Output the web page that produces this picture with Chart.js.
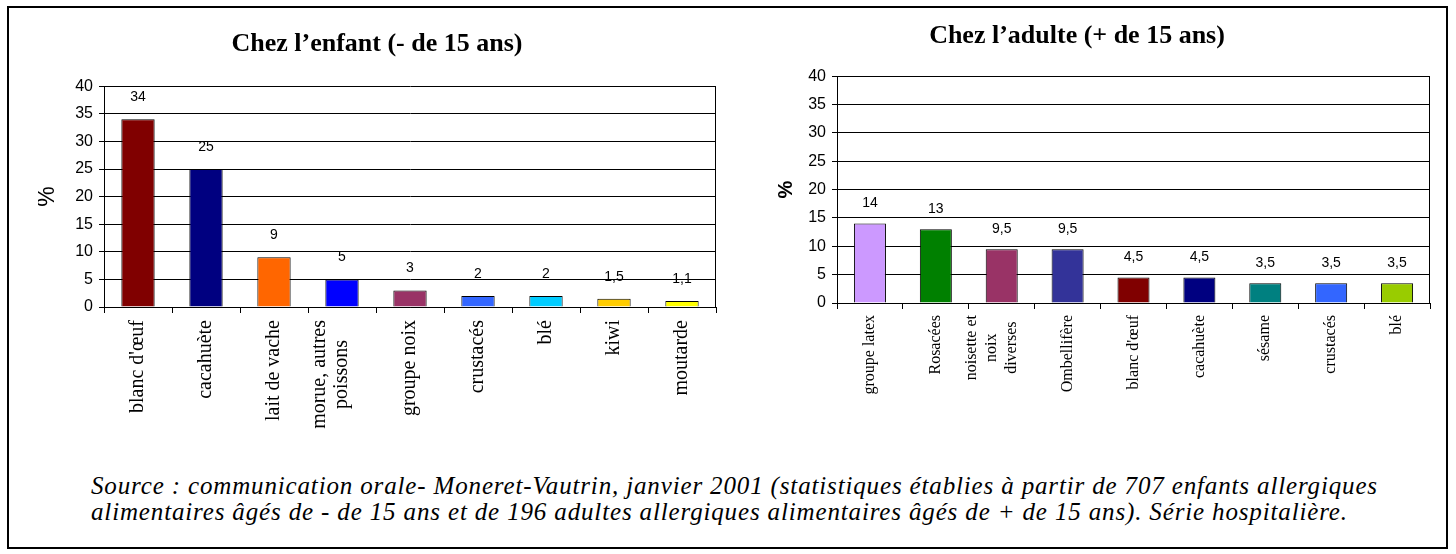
<!DOCTYPE html>
<html lang="fr">
<head>
<meta charset="utf-8">
<title>Allergies alimentaires</title>
<script src="https://cdn.jsdelivr.net/npm/chart.js@4.4.0/dist/chart.umd.min.js"></script>
<style>
  html, body { margin: 0; padding: 0; background: #fff; }
  body { width: 1456px; height: 554px; position: relative; overflow: hidden; }
  #frame { position: absolute; left: 7px; top: 6px; width: 1437px; height: 539px; border: 2px solid #000; }
  .box { position: absolute; top: 0; height: 440px; }
  #box-enfant { left: 38px; width: 686px; }
  #box-adulte { left: 724px; width: 721px; }
  #source {
    position: absolute; left: 91px; top: 473px;
    font: italic 25px/26px 'Liberation Serif', 'Times New Roman', serif;
    letter-spacing: 0.85px;
    white-space: nowrap; color: #000;
  }
</style>
</head>
<body>
<div id="frame"></div>
<div class="box" id="box-enfant"><canvas id="chart-enfant"></canvas></div>
<div class="box" id="box-adulte"><canvas id="chart-adulte"></canvas></div>
<div id="source">Source : communication orale- Moneret-Vautrin, janvier 2001 (statistiques établies à partir de 707 enfants allergiques<br>alimentaires âgés de - de 15 ans et de 196 adultes allergiques alimentaires âgés de + de 15 ans). Série hospitalière.</div>

<script>
// children (- 15 years)
const enfantLabels = ["blanc d'œuf", 'cacahuète', 'lait de vache', ['morue, autres', 'poissons'], 'groupe noix', 'crustacés', 'blé', 'kiwi', 'moutarde'];
const enfantValues = [34, 25, 9, 5, 3, 2, 2, 1.5, 1.1];
const enfantColors = ['#800000', '#000080', '#FF6600', '#0000FF', '#993366', '#3366FF', '#00CCFF', '#FFCC00', '#FFFF00'];

// adults (+ 15 years)
const adulteLabels = ['groupe latex', 'Rosacées', ['noisette et', 'noix', 'diverses'], 'Ombellifère', "blanc d'œuf", 'cacahuète', 'sésame', 'crustacés', 'blé'];
const adulteValues = [14, 13, 9.5, 9.5, 4.5, 4.5, 3.5, 3.5, 3.5];
const adulteColors = ['#CC99FF', '#008000', '#993366', '#333399', '#800000', '#000080', '#008080', '#3366FF', '#99CC00'];

// shared y axis
const yMin = 0;
const yMax = 40;
const yStep = 5;

Chart.defaults.font.family = "'Liberation Sans', Arial, sans-serif";
Chart.defaults.color = '#000';

// value written above each bar, french decimal comma
function valueLabels(size, offset) {
  return {
    id: 'valueLabels',
    afterDatasetsDraw(chart) {
      const ctx = chart.ctx;
      const values = chart.data.datasets[0].data;
      ctx.save();
      ctx.font = size + "px 'Liberation Sans', Arial, sans-serif";
      ctx.fillStyle = '#000';
      ctx.textAlign = 'center';
      ctx.textBaseline = 'middle';
      chart.getDatasetMeta(0).data.forEach((bar, i) => {
        ctx.fillText(String(values[i]).replace('.', ','), bar.x, bar.y - offset);
      });
      ctx.restore();
    }
  };
}

// closes the plot box on the right side
const plotFrame = {
  id: 'plotFrame',
  afterDraw(chart) {
    const { ctx, chartArea } = chart;
    ctx.save();
    ctx.strokeStyle = '#000';
    ctx.lineWidth = 1;
    ctx.beginPath();
    ctx.moveTo(Math.round(chartArea.right) - 0.5, chartArea.top);
    ctx.lineTo(Math.round(chartArea.right) - 0.5, chartArea.bottom);
    ctx.stroke();
    ctx.restore();
  }
};

// multi-line category labels: center the lines on the tick like excel does
const centerLines = {
  id: 'centerLines',
  beforeDraw(chart) {
    const ctx = chart.ctx;
    chart.scales.x.getLabelItems(chart.chartArea).forEach(item => {
      if (!Array.isArray(item.label) || item.label.length < 2) return;
      item.textOffset = -(item.label.length - 1) * item.font.lineHeight / 2;
      ctx.save();
      ctx.font = item.font.string;
      const widest = Math.max(...item.label.map(l => ctx.measureText(l).width));
      ctx.restore();
      item.options.textAlign = 'center';
      item.options.translation[1] += widest / 2;
    });
  }
};

function makeChart(id, cfg) {
  return new Chart(document.getElementById(id), {
    type: 'bar',
    data: {
      labels: cfg.labels,
      datasets: [{
        data: cfg.values,
        backgroundColor: cfg.colors,
        borderColor: '#000',
        borderWidth: 1,
        barPercentage: cfg.barPct,
        categoryPercentage: 1
      }]
    },
    options: {
      responsive: true,
      maintainAspectRatio: false,
      animation: false,
      layout: { padding: { left: 0, right: cfg.padRight, top: 0, bottom: 0 } },
      plugins: {
        legend: { display: false },
        tooltip: { enabled: false },
        title: {
          display: true,
          text: cfg.title,
          color: '#000',
          font: { family: "'Liberation Serif', 'Times New Roman', serif", size: 26, weight: 'bold', lineHeight: 1.2 },
          padding: cfg.titlePad
        }
      },
      scales: {
        x: {
          grid: { drawOnChartArea: false, offset: true, color: '#000', tickLength: 6 },
          border: { color: '#000', width: 1 },
          ticks: {
            autoSkip: false,
            minRotation: 90,
            maxRotation: 90,
            padding: cfg.labelPad,
            color: '#000',
            font: { family: "'Liberation Serif', 'Times New Roman', serif", size: cfg.labelSize, lineHeight: cfg.labelLine }
          },
          afterFit: s => { s.height = cfg.xHeight; }
        },
        y: {
          min: yMin,
          max: yMax,
          ticks: { stepSize: yStep, padding: 6, color: '#000', font: { size: 16 } },
          grid: { color: '#000', tickLength: 5 },
          border: { color: '#000', width: 1 },
          title: {
            display: true,
            text: '%',
            color: '#000',
            font: cfg.pctFont,
            padding: cfg.pctPad
          },
          afterFit: s => { s.width = cfg.yWidth; }
        }
      }
    },
    plugins: [centerLines, valueLabels(14, cfg.valueOffset), plotFrame]
  });
}

makeChart('chart-enfant', {
  labels: enfantLabels,
  values: enfantValues,
  colors: enfantColors,
  title: 'Chez l’enfant (- de 15 ans)',
  titlePad: { top: 29, bottom: 26 },
  barPct: 0.49,
  padRight: 8,
  yWidth: 66,
  xHeight: 133,
  labelSize: 20,
  labelLine: 1.1,
  labelPad: 7,
  pctFont: { size: 23, lineHeight: 0.8 },
  pctPad: { top: 0, bottom: 0 },
  valueOffset: 22
});

makeChart('chart-adulte', {
  labels: adulteLabels,
  values: adulteValues,
  colors: adulteColors,
  title: 'Chez l’adulte (+ de 15 ans)',
  titlePad: { top: 21, bottom: 24 },
  barPct: 0.486,
  padRight: 15,
  yWidth: 113,
  xHeight: 137,
  labelSize: 16,
  labelLine: 1.25,
  labelPad: 6,
  pctFont: { size: 20, weight: 'bold', lineHeight: 1.2 },
  pctPad: { top: 50, bottom: 0 },
  valueOffset: 20
});
</script>
</body>
</html>
